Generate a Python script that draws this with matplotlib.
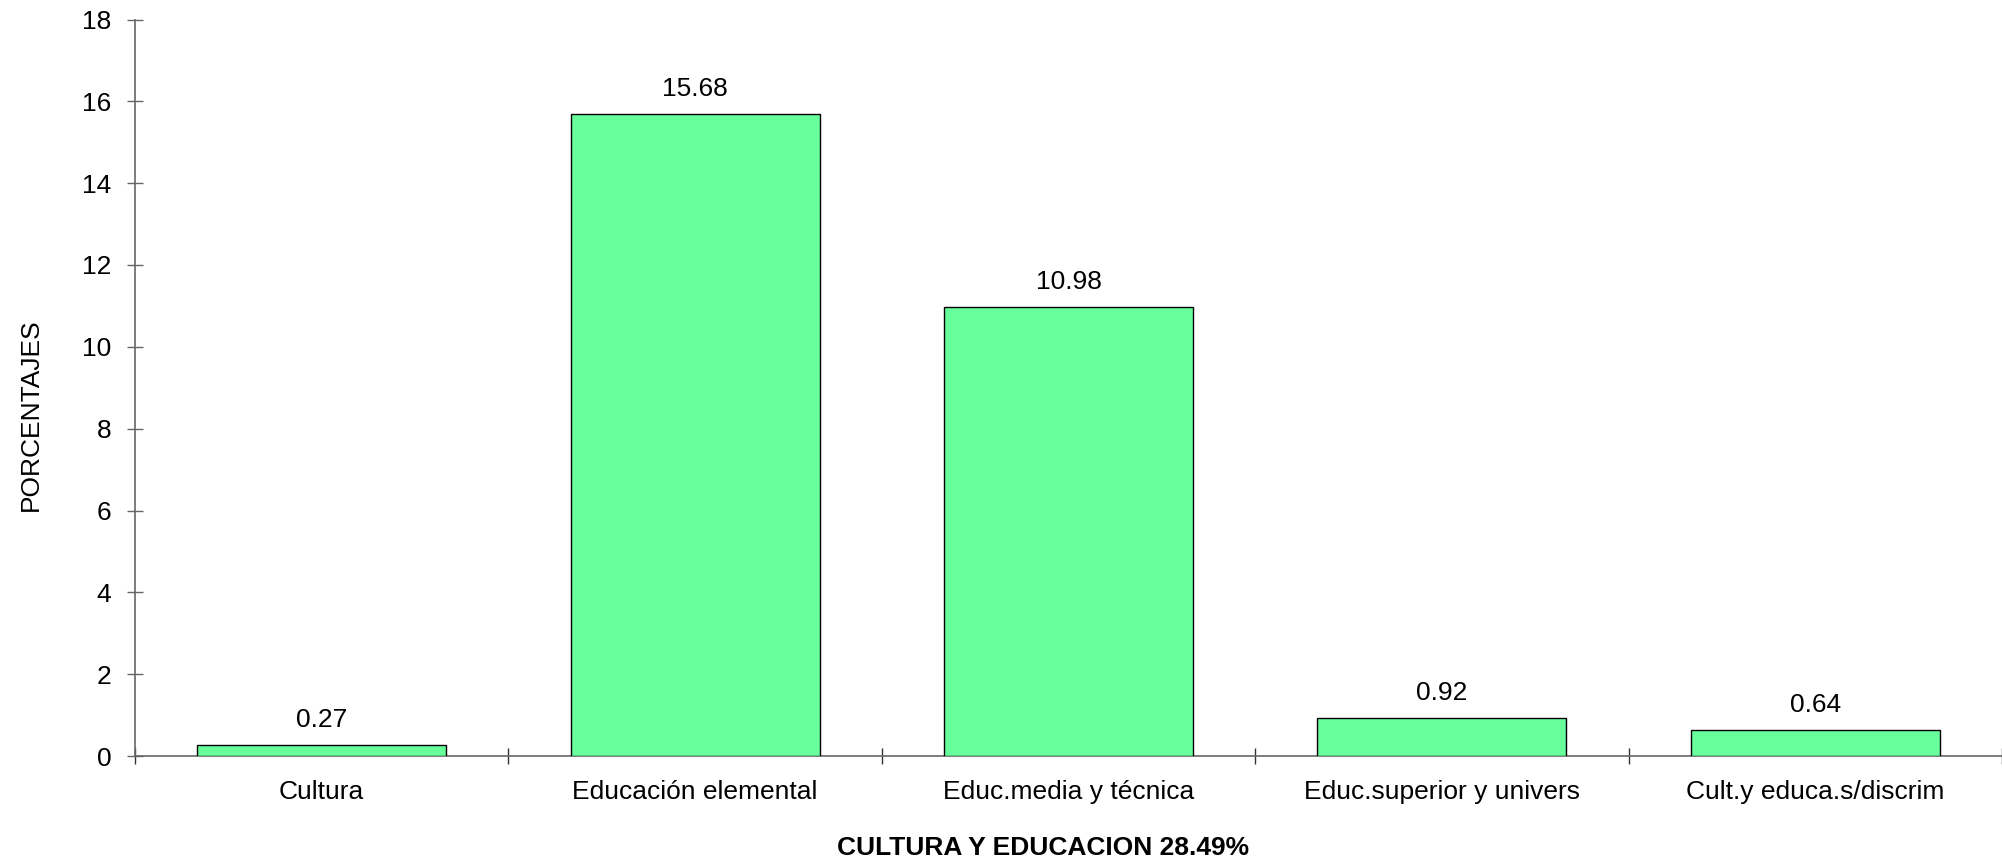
import matplotlib
matplotlib.use("Agg")
import matplotlib.pyplot as plt
import numpy as np

categories = ["Cultura", "Educación elemental", "Educ.media y técnica",
              "Educ.superior y univers", "Cult.y educa.s/discrim"]
values = [0.27, 15.68, 10.98, 0.92, 0.64]
value_labels = ["0.27", "15.68", "10.98", "0.92", "0.64"]
y_ticks = [0, 2, 4, 6, 8, 10, 12, 14, 16, 18]
x_title = "CULTURA Y EDUCACION 28.49%"
y_title = "PORCENTAJES"

plt.rcParams['font.family'] = ['Liberation Sans', 'DejaVu Sans']

W, H = 2002, 864
fig = plt.figure(figsize=(W / 100, H / 100), dpi=100)
ax = fig.add_axes([135 / W, 108 / H, 1 - 135 / W, (756 - 19.5) / H])

x = np.arange(len(categories))
ax.bar(x, values, width=0.667, color='#66FF99', edgecolor='black', linewidth=1.0, zorder=3)

for xi, v, lab in zip(x, values, value_labels):
    ax.annotate(lab, (xi, v), xytext=(0, 13), textcoords='offset points',
                ha='center', va='baseline', fontsize=19, color='black')

ax.set_xlim(-0.5, len(categories) - 0.5)
ax.set_ylim(0, 18)
ax.set_yticks(y_ticks)
ax.set_yticklabels([str(t) for t in y_ticks])
ax.set_xticks(x)
ax.set_xticklabels(categories)
ax.set_xticks(np.arange(len(categories) + 1) - 0.5, minor=True)

for s in ['top', 'right']:
    ax.spines[s].set_visible(False)
for s in ['left', 'bottom']:
    ax.spines[s].set_color('#666666')
    ax.spines[s].set_linewidth(1.2)

ax.tick_params(axis='y', direction='inout', length=11, width=1.0, color='#666666',
               pad=11.5, labelsize=19)
ax.tick_params(axis='x', which='major', length=0, pad=17, labelsize=19)
ax.tick_params(axis='x', which='minor', direction='inout', length=11, width=1.0,
               color='#333333')

fig.text(1043 / W, 9 / H, x_title, ha='center', va='baseline',
         fontsize=19, fontweight='bold')
fig.text(31 / W, 1 - 415 / H, y_title, ha='center', va='center', rotation=90,
         fontsize=19)

fig.savefig('out.png', dpi=100)
